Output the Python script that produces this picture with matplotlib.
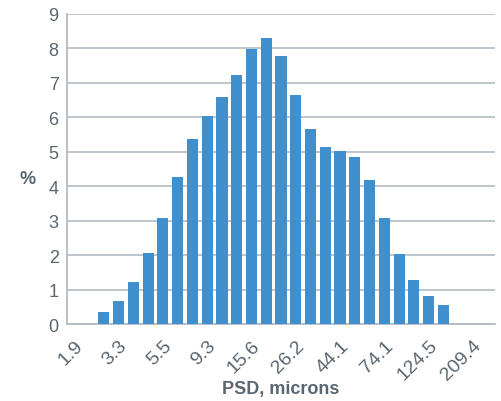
import matplotlib
matplotlib.use("Agg")
import matplotlib.pyplot as plt
import matplotlib.transforms as mtransforms

# particle size classes (microns), only every third one is labelled
sizes = ["1.9", "2.3", "2.7", "3.3", "3.9", "4.6", "5.5", "6.6", "7.8",
         "9.3", "11.1", "13.1", "15.6", "18.6", "22.1", "26.2", "31.2", "37.1",
         "44.1", "52.4", "62.3", "74.1", "88.1", "104.7", "124.5", "148.0",
         "176.0", "209.4", "249.0"]
percent = [0, 0, 0.34, 0.66, 1.21, 2.05, 3.09, 4.28, 5.36, 6.05, 6.58, 7.24,
           7.97, 8.29, 7.77, 6.66, 5.65, 5.15, 5.01, 4.84, 4.17, 3.09, 2.02,
           1.27, 0.80, 0.54, 0, 0, 0]
yticks = list(range(0, 10))

BAR = "#4090cd"
GRID = "#b3bbc3"
TEXT = "#5a6670"

plt.rcParams["font.family"] = ["Liberation Sans", "DejaVu Sans"]

fig = plt.figure(figsize=(5.02, 4.02), dpi=100)
ax = fig.add_axes([0.1335, 0.1915, 0.8525, 0.7712])

x = list(range(len(sizes)))
ax.bar(x, percent, width=0.75, color=BAR, zorder=3)

ax.set_xlim(-0.5, len(sizes) - 0.5)
ax.set_ylim(0, 9)
ax.set_yticks(yticks)
ax.yaxis.grid(True, color=GRID, linewidth=1.2, zorder=1)

for s in ["top", "right"]:
    ax.spines[s].set_visible(False)
for s in ["left", "bottom"]:
    ax.spines[s].set_color(GRID)
    ax.spines[s].set_linewidth(1.3)

ax.tick_params(axis="y", length=0, pad=6, labelsize=13, labelcolor=TEXT)
ax.tick_params(axis="x", length=0, pad=9, labelsize=14, labelcolor=TEXT)

shown = x[::3]
ax.set_xticks(shown)
ax.set_xticklabels([sizes[i] for i in shown], rotation=45, ha="right")
offset = mtransforms.ScaledTranslation(12 / 100, 0, fig.dpi_scale_trans)
for lbl in ax.get_xticklabels():
    lbl.set_transform(lbl.get_transform() + offset)

ax.set_xlabel("PSD, microns", fontsize=13, fontweight="bold", color=TEXT)
ax.xaxis.set_label_coords(0.5, -0.18)
ax.set_ylabel("%", rotation=0, fontsize=13, fontweight="bold", color=TEXT,
              va="center", ha="center")
ax.yaxis.set_label_coords(-0.093, 0.47)

fig.savefig("out.png", dpi=100)
